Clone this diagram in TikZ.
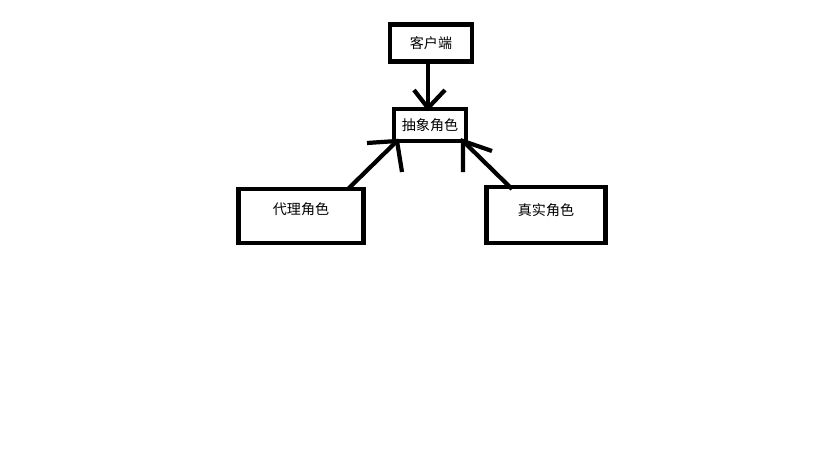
\documentclass[tikz,border=0pt]{standalone}
\usepackage{fontspec}
\newfontfamily\cjk{Noto Sans CJK SC}
\usetikzlibrary{positioning}
\tikzset{
	rolebox/.style={draw, line width=2.4pt, inner sep=0pt, font=\cjk\fontsize{8}{10}\selectfont},
	stroke/.style={line width=2.4pt}
}
\begin{document}
\begin{tikzpicture}[x=0.02cm, y=-0.02cm]
		\useasboundingbox (0,0) rectangle (819,460);
		\node[rolebox, minimum width=1.64cm, minimum height=0.74cm] (client) at (431,43) {客户端};
		\node[rolebox, minimum width=1.44cm, minimum height=0.64cm] (abstract) at (430,125) {抽象角色};
		\node[rolebox, minimum width=2.5cm, minimum height=1.08cm, text depth=0.3cm] (proxy) at (301,216) {代理角色};
		\node[rolebox, minimum width=2.38cm, minimum height=1.12cm, text depth=0.2cm] (real) at (546,215) {真实角色};
		
		% client to abstract
		\coordinate (c1) at (428,62);
		\coordinate (c2) at (428,108);
		\draw[stroke] (c1) -- (c2);
		\draw[stroke] (414,90) -- (c2) -- (445,90);
		
		% proxy to abstract
		\coordinate (p1) at (348,189);
		\coordinate (p2) at (397,141);
		\draw[stroke] (p1) -- (p2);
		\draw[stroke] (367,143) -- (p2) -- (402,172);
		
		% real to abstract
		\coordinate (r1) at (512,189);
		\coordinate (r2) at (463,141);
		\draw[stroke] (r1) -- (r2);
		\draw[stroke] (492,151) -- (r2) -- (463,172);
\end{tikzpicture}
\end{document}
